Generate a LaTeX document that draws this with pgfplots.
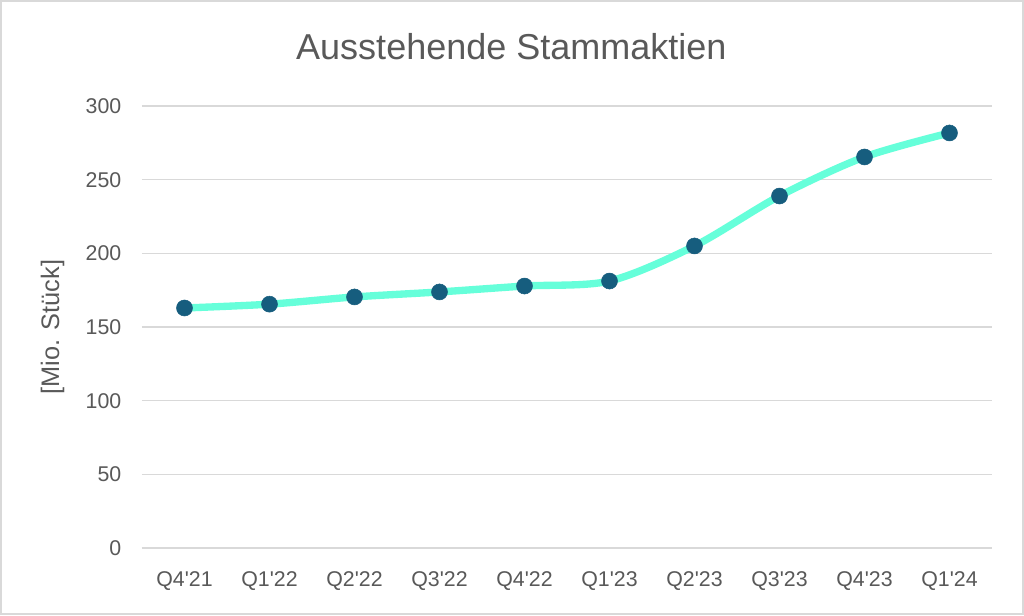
\documentclass[border=0pt]{standalone}
\usepackage{pgfplots}
\pgfplotsset{compat=1.18}
\usepackage{fontspec}
\setmainfont{Liberation Sans}
\definecolor{txt}{HTML}{595959}
\definecolor{gridc}{HTML}{D9D9D9}
\definecolor{linec}{HTML}{66FFDA}
\definecolor{markc}{HTML}{165D7E}
\newcommand{\q}{\textquotesingle}
\begin{document}
\begin{tikzpicture}
\fill[white] (0pt,0pt) rectangle (768pt,461.25pt);
\draw[gridc, line width=1.2pt] (0.6pt,0.6pt) rectangle (767.4pt,460.65pt);
\node[txt, font=\fontsize{27}{32}\selectfont] at (383.5pt,426pt) {Ausstehende Stammaktien};
\begin{axis}[
  at={(106.5pt,50.25pt)}, anchor=south west,
  scale only axis, width=637.5pt, height=331.5pt,
  xmin=-0.5, xmax=9.5, ymin=0, ymax=300,
  xtick={0,...,9},
  xticklabels={Q4\q21,Q1\q22,Q2\q22,Q3\q22,Q4\q22,Q1\q23,Q2\q23,Q3\q23,Q4\q23,Q1\q24},
  ytick={0,50,...,300},
  ymajorgrids, grid style={gridc, line width=1pt},
  axis x line*=bottom, axis y line*=left,
  x axis line style={gridc, line width=1pt, -},
  y axis line style={draw=none},
  major tick length=0pt,
  tick label style={txt, font=\fontsize{16}{19}\selectfont},
  /pgf/number format/assume math mode=true,
  xticklabel style={yshift=-14pt},
  yticklabel style={xshift=-12pt},
  ylabel={[Mio. Stück]},
  every axis y label/.style={at={(-67pt,165.75pt)}, rotate=90, anchor=center, txt, font=\fontsize{19}{22}\selectfont},
  clip=false,
]
\addplot[linec, line width=5.5pt, smooth, tension=0.5, no marks]
  coordinates {
  (0,162.9) (1,165.5) (2,170.4) (3,173.8) (4,177.8) (5,181.2) (6,205) (7,238.9) (8,265.4) (9,281.7)
  };
\addplot[only marks, mark=*, mark size=6pt, mark options={draw=markc, fill=markc, line width=0.4pt}]
  coordinates {
  (0,162.9) (1,165.5) (2,170.4) (3,173.8) (4,177.8) (5,181.2) (6,205) (7,238.9) (8,265.4) (9,281.7)
  };
\end{axis}
\end{tikzpicture}
\end{document}
